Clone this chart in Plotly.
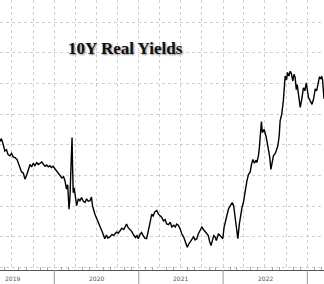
import plotly.graph_objects as go

dates = [
    "2019-05-10","2019-05-17","2019-05-24","2019-06-01","2019-06-08","2019-06-15","2019-06-23","2019-06-30",
    "2019-07-08","2019-07-15","2019-07-24","2019-08-01","2019-08-05","2019-08-12","2019-08-20","2019-08-27",
    "2019-09-03","2019-09-10","2019-09-18","2019-09-25","2019-10-02","2019-10-09","2019-10-17","2019-10-24",
    "2019-10-31","2019-11-08","2019-11-15","2019-11-22","2019-11-29","2019-12-06","2019-12-13","2019-12-20",
    "2019-12-27","2020-01-04","2020-01-12","2020-01-19","2020-01-26","2020-02-03","2020-02-10","2020-02-16",
    "2020-02-23","2020-02-28","2020-03-05","2020-03-09","2020-03-13","2020-03-18","2020-03-20","2020-03-23",
    "2020-03-27","2020-04-01","2020-04-07","2020-04-14","2020-04-21","2020-04-28","2020-05-06","2020-05-13",
    "2020-05-20","2020-05-27","2020-06-04","2020-06-10","2020-06-15","2020-06-25","2020-07-06","2020-07-17",
    "2020-07-27","2020-08-07","2020-08-14","2020-08-20","2020-08-29","2020-09-07","2020-09-14","2020-09-20",
    "2020-09-28","2020-10-04","2020-10-11","2020-10-20","2020-10-28","2020-11-04","2020-11-09","2020-11-16",
    "2020-11-23","2020-12-01","2020-12-10","2020-12-18","2020-12-24","2020-12-30","2021-01-06","2021-01-13",
    "2021-01-20","2021-01-27","2021-02-04","2021-02-11","2021-02-18","2021-02-26","2021-03-04","2021-03-12",
    "2021-03-20","2021-03-27","2021-04-03","2021-04-10","2021-04-18","2021-04-25","2021-05-02","2021-05-10",
    "2021-05-17","2021-05-24","2021-06-01","2021-06-08","2021-06-14","2021-06-21","2021-06-28","2021-07-06",
    "2021-07-14","2021-07-22","2021-07-30","2021-08-05","2021-08-12","2021-08-18","2021-08-26","2021-09-02",
    "2021-09-09","2021-09-16","2021-09-24","2021-10-01","2021-10-08","2021-10-15","2021-10-22","2021-10-29",
    "2021-11-04","2021-11-10","2021-11-17","2021-11-22","2021-11-27","2021-12-03","2021-12-12","2021-12-20",
    "2021-12-31","2022-01-05","2022-01-10","2022-01-18","2022-01-24","2022-01-31","2022-02-10","2022-02-16",
    "2022-02-22","2022-03-01","2022-03-06","2022-03-12","2022-03-19","2022-03-24","2022-03-30","2022-04-06",
    "2022-04-14","2022-04-21","2022-04-28","2022-05-04","2022-05-10","2022-05-17","2022-05-24","2022-05-27",
    "2022-06-03","2022-06-07","2022-06-13","2022-06-16","2022-06-20","2022-06-28","2022-07-07","2022-07-15",
    "2022-07-22","2022-07-27","2022-08-01","2022-08-07","2022-08-15","2022-08-26","2022-09-01","2022-09-05",
    "2022-09-12","2022-09-19","2022-09-27","2022-10-03","2022-10-07","2022-10-13","2022-10-19","2022-10-24",
    "2022-10-30","2022-11-04","2022-11-09","2022-11-14","2022-11-18","2022-11-23","2022-12-01","2022-12-08",
    "2022-12-15","2022-12-21","2022-12-27","2023-01-06","2023-01-13","2023-01-21","2023-01-28","2023-02-04",
    "2023-02-10","2023-02-16","2023-02-22","2023-02-28","2023-03-04","2023-03-08","2023-03-14",
]
real_yield = [
    0.55,0.60,0.52,0.40,0.42,0.34,0.32,0.36,
    0.30,0.29,0.26,0.18,0.13,0.06,0.04,-0.06,
    0.00,0.10,0.18,0.14,0.20,0.16,0.21,0.18,
    0.20,0.22,0.18,0.15,0.17,0.14,0.16,0.13,
    0.15,0.11,0.08,0.04,0.02,-0.04,-0.02,-0.08,
    -0.22,-0.15,-0.55,-0.35,0.10,0.62,0.20,-0.28,
    -0.20,-0.35,-0.49,-0.38,-0.41,-0.36,-0.42,-0.44,
    -0.38,-0.42,-0.41,-0.35,-0.50,-0.63,-0.72,-0.82,
    -0.92,-1.03,-0.97,-1.02,-1.00,-0.96,-0.98,-0.95,
    -0.92,-0.94,-0.91,-0.86,-0.88,-0.82,-0.79,-0.85,
    -0.88,-0.91,-0.97,-1.01,-0.98,-1.03,-0.96,-0.93,
    -0.98,-1.02,-1.03,-0.92,-0.78,-0.63,-0.66,-0.59,
    -0.57,-0.63,-0.65,-0.68,-0.74,-0.72,-0.79,-0.80,
    -0.76,-0.84,-0.81,-0.84,-0.79,-0.81,-0.86,-0.95,
    -1.00,-1.08,-1.17,-1.12,-1.08,-1.06,-1.00,-1.05,
    -1.03,-0.95,-0.90,-0.84,-0.88,-0.92,-0.95,-0.98,
    -1.08,-1.14,-1.04,-0.98,-1.00,-1.06,-0.95,-0.98,
    -1.03,-0.85,-0.76,-0.62,-0.55,-0.50,-0.44,-0.50,
    -0.71,-0.90,-1.03,-0.80,-0.60,-0.52,-0.44,-0.25,
    -0.09,0.02,0.05,0.18,0.26,0.20,0.25,0.21,
    0.32,0.45,0.80,0.88,0.70,0.75,0.62,0.45,
    0.30,0.10,0.18,0.32,0.36,0.48,0.65,0.89,
    1.00,1.22,1.62,1.56,1.68,1.62,1.70,1.66,
    1.54,1.65,1.60,1.40,1.48,1.33,1.11,1.25,
    1.43,1.38,1.51,1.27,1.22,1.16,1.25,1.41,
    1.38,1.52,1.60,1.58,1.62,1.55,1.25,
]

year_labels = ["2019", "2020", "2021", "2022"]
year_label_dates = ["2019-07-02", "2020-07-02", "2021-07-02", "2022-07-02"]
year_starts = ["2020-01-01", "2021-01-01", "2022-01-01", "2023-01-01"]

fig = go.Figure()
fig.add_trace(go.Scatter(x=dates, y=real_yield, mode="lines",
                         line=dict(color="#000000", width=1.4), showlegend=False))

annotations = [dict(text="<b>10Y Real Yields</b>", xref="paper", yref="paper",
                    x=0.386, y=0.863, showarrow=False,
                    font=dict(family="Liberation Serif", size=17, color="#111111",
                              shadow="1px 1px 2px #888888"))]
for lab, d in zip(year_labels, year_label_dates):
    annotations.append(dict(text=lab, x=d, xref="x", y=-0.012, yref="paper",
                            yanchor="top", showarrow=False,
                            font=dict(family="DejaVu Sans", size=6, color="#555555")))

shapes = [dict(type="line", xref="x", yref="paper", x0=d, x1=d, y0=0, y1=-0.055,
               line=dict(color="#999999", width=1)) for d in year_starts]

fig.update_layout(
    width=324, height=284,
    margin=dict(l=0, r=0, t=0, b=14),
    paper_bgcolor="white", plot_bgcolor="white",
    annotations=annotations, shapes=shapes,
    xaxis=dict(range=["2019-05-11", "2023-03-14"], type="date",
               dtick="M3", tick0="2019-01-01", showgrid=True,
               gridcolor="#cfcfcf", griddash="dot", gridwidth=1,
               showticklabels=False, ticks="",
               showline=True, linecolor="#555555", linewidth=1,
               minor=dict(dtick="M1", ticks="inside", ticklen=3, tickcolor="#aaaaaa",
                          showgrid=False),
               zeroline=False),
    yaxis=dict(range=[-1.54, 2.86], dtick=0.5, tick0=0, showgrid=True,
               gridcolor="#cfcfcf", griddash="dot", gridwidth=1,
               showticklabels=False, ticks="", zeroline=False),
)

fig.write_html("out.html")
